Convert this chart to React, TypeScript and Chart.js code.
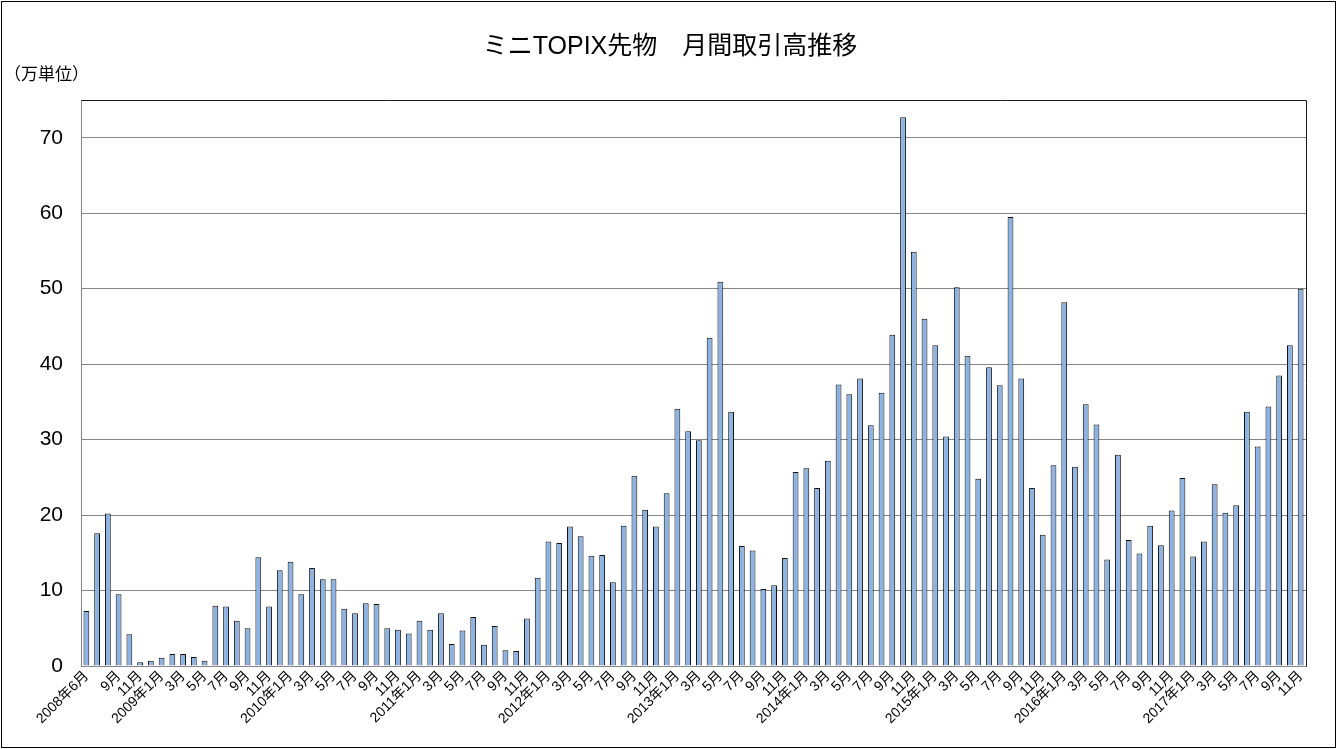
import React, { useEffect, useRef } from 'react';
import { Chart, registerables } from 'chart.js';

Chart.register(...registerables);

const TITLE = 'ミニTOPIX先物　月間取引高推移';
const UNIT_LABEL = '（万単位）';

// Monthly volume (万単位), 2008年6月 – 2017年11月
const vol2008 = [7.3, 17.6, 20.2, 9.5, 4.2, 0.5, 0.7]; // Jun–Dec
const vol2009 = [1.1, 1.6, 1.6, 1.2, 0.7, 8.0, 7.9, 6.0, 5.0, 14.4, 7.9, 12.7];
const vol2010 = [13.8, 9.5, 13.0, 11.5, 11.5, 7.6, 7.0, 8.3, 8.2, 5.0, 4.8, 4.3];
const vol2011 = [6.0, 4.8, 7.0, 2.9, 4.7, 6.5, 2.8, 5.3, 2.1, 2.0, 6.3, 11.7];
const vol2012 = [16.5, 16.3, 18.5, 17.2, 14.6, 14.7, 11.1, 18.6, 25.2, 20.7, 18.5, 22.9];
const vol2013 = [34.1, 31.1, 29.9, 43.5, 50.9, 33.7, 15.9, 15.3, 10.2, 10.7, 14.3, 25.7];
const vol2014 = [26.2, 23.6, 27.2, 37.3, 36.0, 38.1, 31.9, 36.2, 43.9, 72.7, 54.9, 46.0];
const vol2015 = [42.5, 30.4, 50.2, 41.1, 24.8, 39.6, 37.2, 59.5, 38.1, 23.6, 17.4, 26.6];
const vol2016 = [48.2, 26.4, 34.7, 32.0, 14.1, 28.0, 16.7, 14.9, 18.6, 16.0, 20.6, 24.9];
const vol2017 = [14.5, 16.5, 24.1, 20.3, 21.3, 33.7, 29.1, 34.4, 38.5, 42.5, 50.0];

const volumeSeries = [vol2008, vol2009, vol2010, vol2011, vol2012, vol2013, vol2014, vol2015, vol2016, vol2017];
const START_YEAR = 2008;
const START_MONTH = 6;

// Y axis ticks
const Y_MIN = 0;
const Y_MAX = 75;
const Y_STEP = 10;
const Y_LAST_LABEL = 70;

function buildCategories(): string[] {
  const cats: string[] = [];
  let y = START_YEAR;
  let m = START_MONTH;
  const total = volumeSeries.reduce((s, a) => s + a.length, 0);
  for (let i = 0; i < total; i++) {
    let label = '';
    if (i === 0) label = `${y}年${m}月`;
    else if (i >= 2 && m % 2 === 1) label = m === 1 ? `${y}年${m}月` : `${m}月`;
    cats.push(label);
    m++;
    if (m > 12) { m = 1; y++; }
  }
  return cats;
}

const FONT = '"Liberation Sans", Arial, "Noto Sans CJK JP", sans-serif';
const W = 1339;
const H = 749;
const PLOT_LEFT = 81;
const PLOT_RIGHT = 1306;
const PLOT_TOP = 100;
const PLOT_BOTTOM = 666;

export default function App() {
  const ref = useRef<HTMLCanvasElement | null>(null);

  useEffect(() => {
    document.body.style.margin = '0';
    const canvas = ref.current;
    if (!canvas) return;
    const labels = buildCategories();
    const values = volumeSeries.flat();

    const decor = {
      id: 'decor',
      afterDraw(chart: any) {
        const ctx = chart.ctx;
        const a = chart.chartArea;
        ctx.save();
        ctx.strokeStyle = '#1a1a1a';
        ctx.lineWidth = 1;
        ctx.beginPath();
        ctx.moveTo(Math.round(a.left) + 0.5, Math.round(a.top) + 0.5);
        ctx.lineTo(Math.round(a.right) + 0.5, Math.round(a.top) + 0.5);
        ctx.lineTo(Math.round(a.right) + 0.5, Math.round(a.bottom) + 0.5);
        ctx.stroke();
        ctx.strokeStyle = '#000';
        ctx.strokeRect(1.5, 1.5, W - 5, H - 3);
        ctx.fillStyle = '#000';
        ctx.font = `25px ${FONT}`;
        ctx.textAlign = 'center';
        ctx.textBaseline = 'middle';
        ctx.fillText(TITLE, 670, 47);
        ctx.font = `17px ${FONT}`;
        ctx.textAlign = 'left';
        ctx.fillText(UNIT_LABEL, 4, 75);
        ctx.restore();
      },
    };

    const chart = new Chart(canvas, {
      type: 'bar',
      data: {
        labels,
        datasets: [
          {
            data: values,
            backgroundColor: '#8DB3E2',
            borderColor: '#111',
            borderWidth: 1,
            categoryPercentage: 1,
            barPercentage: 0.54,
          },
        ],
      },
      options: {
        responsive: true,
        maintainAspectRatio: false,
        animation: false,
        layout: { padding: { left: 0, right: W - PLOT_RIGHT, top: PLOT_TOP, bottom: 0 } },
        plugins: {
          legend: { display: false },
          title: { display: false },
          tooltip: { enabled: false },
        },
        scales: {
          x: {
            grid: { display: false, drawTicks: false },
            border: { color: '#868686', width: 1 },
            ticks: {
              autoSkip: false,
              maxRotation: 45,
              minRotation: 45,
              padding: 2,
              color: '#000',
              font: { size: 14, family: FONT },
            },
            afterFit(scale: any) {
              scale.height = H - PLOT_BOTTOM;
            },
          },
          y: {
            min: Y_MIN,
            max: Y_MAX,
            grid: { color: '#868686', lineWidth: 1, drawTicks: false },
            border: { color: '#868686', width: 1 },
            ticks: {
              stepSize: Y_STEP,
              padding: 18,
              color: '#000',
              font: { size: 21, family: FONT },
            },
            afterBuildTicks(scale: any) {
              scale.ticks = scale.ticks.filter((t: any) => t.value <= Y_LAST_LABEL);
            },
            afterFit(scale: any) {
              scale.width = PLOT_LEFT;
            },
          },
        },
      },
      plugins: [decor],
    });

    return () => chart.destroy();
  }, []);

  return (
    <div style={{ width: W, height: H, position: 'relative', background: '#fff' }}>
      <canvas ref={ref} />
    </div>
  );
}
